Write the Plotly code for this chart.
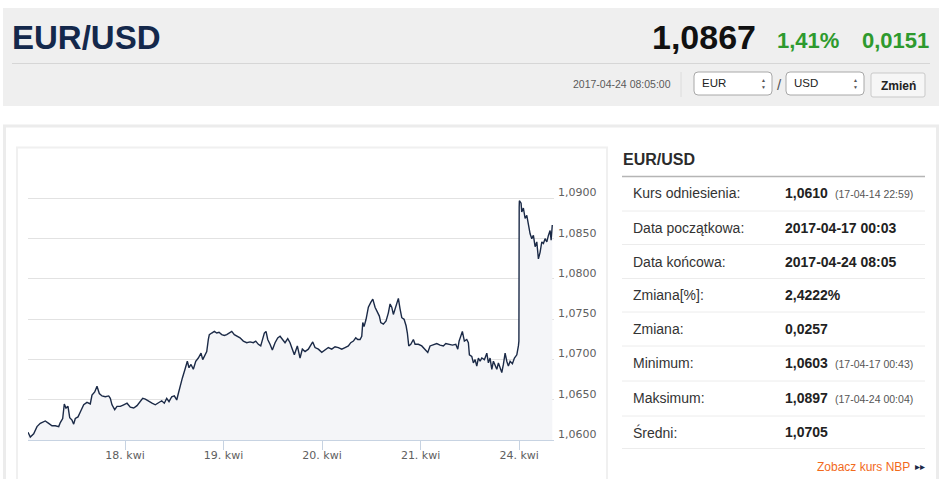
import plotly.graph_objects as go

# EUR/USD intraday, x = hours within each trading day (weekend skipped)
days = ["17. kwi", "18. kwi", "19. kwi", "20. kwi", "21. kwi", "24. kwi"]

h17 = [0.37, 0.93, 1.75, 2.56, 3.36, 4.19, 4.58, 5.41, 6.21, 7.02, 7.85, 8.24, 8.82, 9.21, 9.62, 10.11, 10.53,
       11.09, 11.50, 11.89, 12.55, 13.11, 13.94, 14.74, 15.54, 15.96, 16.62, 17.18, 17.74, 18.40, 19.20, 20.03,
       20.42, 20.83, 21.49, 22.05, 22.85, 23.68]
r17 = [1.0610, 1.0604, 1.0608, 1.0617, 1.0621, 1.0623, 1.0624, 1.0621, 1.0618, 1.0618, 1.0617, 1.0622, 1.0627,
       1.0645, 1.0640, 1.0642, 1.0628, 1.0625, 1.0620, 1.0627, 1.0629, 1.0635, 1.0644, 1.0647, 1.0645, 1.0656,
       1.0660, 1.0667, 1.0658, 1.0655, 1.0654, 1.0655, 1.0652, 1.0644, 1.0638, 1.0642, 1.0642, 1.0644]

h18 = [0.49, 1.29, 2.12, 2.92, 3.73, 4.31, 4.95, 5.77, 6.58, 7.38, 8.11, 8.94, 9.57, 10.16, 10.72, 11.38, 12.01,
       12.60, 12.99, 13.40, 13.96, 14.62, 15.18, 15.59, 16.08, 16.64, 17.23, 17.86, 18.52, 18.93, 19.49, 19.91,
       20.30, 20.54, 21.12, 21.76, 22.34, 22.90, 23.56]
r18 = [1.0646, 1.0641, 1.0640, 1.0643, 1.0648, 1.0652, 1.0651, 1.0648, 1.0646, 1.0644, 1.0646, 1.0649, 1.0646,
       1.0652, 1.0648, 1.0654, 1.0655, 1.0650, 1.0658, 1.0667, 1.0677, 1.0688, 1.0698, 1.0690, 1.0694, 1.0688,
       1.0698, 1.0702, 1.0708, 1.0700, 1.0706, 1.0710, 1.0725, 1.0731, 1.0733, 1.0735, 1.0733, 1.0734, 1.0731]

h19 = [0.19, 0.78, 1.34, 2.00, 2.63, 3.22, 4.02, 4.82, 5.65, 6.46, 7.26, 7.85, 8.48, 9.06, 9.45, 9.94, 10.35,
       10.77, 11.33, 11.89, 12.55, 13.20, 13.77, 14.33, 14.98, 15.64, 16.20, 16.76, 17.25, 17.98, 18.64, 19.20,
       19.86, 20.66, 21.25, 21.73, 22.29, 23.10, 23.93]
r19 = [1.0730, 1.0731, 1.0733, 1.0735, 1.0731, 1.0729, 1.0727, 1.0723, 1.0721, 1.0722, 1.0721, 1.0723, 1.0719,
       1.0717, 1.0725, 1.0733, 1.0735, 1.0725, 1.0719, 1.0712, 1.0721, 1.0727, 1.0729, 1.0725, 1.0721, 1.0726,
       1.0721, 1.0713, 1.0706, 1.0717, 1.0702, 1.0713, 1.0710, 1.0713, 1.0719, 1.0722, 1.0715, 1.0713, 1.0709]

h20 = [0.73, 1.53, 2.36, 3.17, 3.97, 4.80, 5.60, 6.41, 6.99, 7.63, 8.21, 8.70, 9.26, 9.67, 9.92, 10.23, 10.72,
       11.28, 11.87, 12.36, 12.91, 13.47, 13.96, 14.30, 14.93, 15.59, 16.15, 16.57, 16.98, 17.37, 17.79, 18.20,
       18.59, 19.00, 19.42, 19.98, 20.47, 20.78, 21.12, 21.61, 22.24, 22.66, 23.46]
r20 = [1.0712, 1.0715, 1.0713, 1.0716, 1.0715, 1.0713, 1.0715, 1.0717, 1.0721, 1.0723, 1.0727, 1.0725, 1.0725,
       1.0729, 1.0746, 1.0741, 1.0750, 1.0765, 1.0771, 1.0775, 1.0765, 1.0758, 1.0754, 1.0746, 1.0744, 1.0748,
       1.0758, 1.0769, 1.0765, 1.0756, 1.0763, 1.0771, 1.0776, 1.0763, 1.0752, 1.0750, 1.0742, 1.0733, 1.0717,
       1.0719, 1.0725, 1.0719, 1.0719]

h21 = [0.29, 1.09, 1.75, 2.31, 3.12, 3.94, 4.75, 5.55, 6.14, 6.94, 7.75, 8.58, 9.06, 9.38, 9.87, 10.18, 10.67,
       11.25, 11.64, 11.89, 12.47, 12.86, 13.28, 13.69, 14.08, 14.50, 14.91, 15.54, 16.13, 16.52, 16.93, 17.35,
       17.74, 18.15, 18.57, 18.96, 19.37, 19.78, 20.17, 20.59, 21.00, 21.39, 21.81, 22.37, 22.86, 23.44, 23.83,
       23.95]
r21 = [1.0717, 1.0713, 1.0709, 1.0717, 1.0719, 1.0720, 1.0718, 1.0717, 1.0720, 1.0719, 1.0718, 1.0719, 1.0713,
       1.0723, 1.0729, 1.0735, 1.0723, 1.0725, 1.0721, 1.0706, 1.0704, 1.0696, 1.0700, 1.0692, 1.0702, 1.0698,
       1.0702, 1.0700, 1.0708, 1.0696, 1.0702, 1.0688, 1.0698, 1.0694, 1.0688, 1.0696, 1.0690, 1.0684, 1.0694,
       1.0708, 1.0698, 1.0692, 1.0698, 1.0695, 1.0702, 1.0706, 1.0717, 1.0723]

h24 = [0.02, 0.07, 0.48, 0.65, 1.04, 1.46, 1.87, 2.26, 2.68, 3.09, 3.48, 3.90, 4.31, 4.70, 5.11, 5.53, 5.92,
       6.33, 6.75, 7.14, 7.55, 7.80, 8.08]
r24 = [1.0889, 1.0897, 1.0894, 1.0883, 1.0888, 1.0875, 1.0879, 1.0867, 1.0856, 1.0850, 1.0854, 1.0840, 1.0846,
       1.0825, 1.0833, 1.0846, 1.0844, 1.0850, 1.0846, 1.0854, 1.0860, 1.0848, 1.0867]

y_ticks = [1.060, 1.065, 1.070, 1.075, 1.080, 1.085, 1.090, 1.095]
y_labels = ["1,0600", "1,0650", "1,0700", "1,0750", "1,0800", "1,0850", "1,0900", ""]

# header / summary texts
pair = "EUR/USD"
last_rate = "1,0867"
change_pct = "1,41%"
change_abs = "0,0151"
stamp = "2017-04-24 08:05:00"

row_labels = ["Kurs odniesienia:", "Data początkowa:", "Data końcowa:", "Zmiana[%]:",
              "Zmiana:", "Minimum:", "Maksimum:", "Średni:"]
row_values = ["1,0610", "2017-04-17 00:03", "2017-04-24 08:05", "2,4222%",
              "0,0257", "1,0603", "1,0897", "1,0705"]
row_notes = ["(17-04-14 22:59)", "", "", "", "", "(17-04-17 00:43)", "(17-04-24 00:04)", ""]

W, H = 945, 479
ARIAL = "Liberation Sans, Arial, sans-serif"
HC = "DejaVu Sans, Verdana, sans-serif"


def X(v):
    return v / W


def Y(v):
    return 1 - v / H


# join the trading days on one axis
hours, rates = [], []
for i, (hh, rr) in enumerate([(h17, r17), (h18, r18), (h19, r19), (h20, r20), (h21, r21), (h24, r24)]):
    hours += [i * 24 + h for h in hh]
    rates += rr

fig = go.Figure()
fig.add_trace(go.Scatter(
    x=hours, y=rates, mode="lines",
    line=dict(color="#1b2a47", width=1.4),
    fill="tozeroy", fillcolor="#f4f5f8",
    hoverinfo="skip"))

shapes = []


def rect(x0, y0, x1, y1, fill=None, line=None, lw=1):
    shapes.append(dict(type="rect", xref="paper", yref="paper", x0=X(x0), x1=X(x1), y0=Y(y1), y1=Y(y0),
                       fillcolor=fill or "rgba(0,0,0,0)", line=dict(color=line or "rgba(0,0,0,0)", width=lw),
                       layer="below"))


def hline(y, x0, x1, color, lw=1):
    shapes.append(dict(type="line", xref="paper", yref="paper", x0=X(x0), x1=X(x1), y0=Y(y), y1=Y(y),
                       line=dict(color=color, width=lw), layer="below"))


def rrect(x0, y0, x1, y1, r, fill, line):
    p = (f"M{X(x0 + r)},{Y(y0)} L{X(x1 - r)},{Y(y0)} Q{X(x1)},{Y(y0)} {X(x1)},{Y(y0 + r)} "
         f"L{X(x1)},{Y(y1 - r)} Q{X(x1)},{Y(y1)} {X(x1 - r)},{Y(y1)} L{X(x0 + r)},{Y(y1)} "
         f"Q{X(x0)},{Y(y1)} {X(x0)},{Y(y1 - r)} L{X(x0)},{Y(y0 + r)} Q{X(x0)},{Y(y0)} {X(x0 + r)},{Y(y0)} Z")
    shapes.append(dict(type="path", xref="paper", yref="paper", path=p, fillcolor=fill,
                       line=dict(color=line, width=1), layer="below"))


def text(x, y, s, size, color, bold=False, anchor="left", family=ARIAL):
    fig.add_annotation(x=X(x), y=Y(y), xref="paper", yref="paper", showarrow=False,
                       text=f"<b>{s}</b>" if bold else s, xanchor=anchor, yanchor="middle",
                       borderpad=0, font=dict(family=family, size=size, color=color))


# header block
rect(3, 8, 939, 106, fill="#efefef")
hline(63.5, 12, 930, "#d6d6d6")
shapes.append(dict(type="line", xref="paper", yref="paper", x0=X(681), x1=X(681), y0=Y(72), y1=Y(97),
                   line=dict(color="#dcdcdc", width=1)))
rrect(694, 72, 772, 95, 4, "#ffffff", "#a8a8a8")
rrect(786, 72, 864, 95, 4, "#ffffff", "#a8a8a8")
rrect(871, 73, 925, 97, 2, "#f6f6f6", "#c9c9c9")

text(11, 37, pair, 33, "#14284b", bold=True)
text(757, 37, last_rate, 34, "#111111", bold=True, anchor="right")
text(776, 40, change_pct, 22, "#2e9a2e", bold=True)
text(930, 40, change_abs, 22, "#2e9a2e", bold=True, anchor="right")
text(672, 84, stamp, 10.5, "#5a5a5a", anchor="right")
text(701, 83.5, "EUR", 11.5, "#222222")
text(793, 83.5, "USD", 11.5, "#222222")
for ax in (763, 855):
    text(ax, 80, "▲", 5, "#555555", anchor="center")
    text(ax, 87.5, "▼", 5, "#555555", anchor="center")
text(779, 84, "/", 15, "#555555", anchor="center")
text(898, 85.5, "Zmień", 12, "#222222", bold=True, anchor="center")

# panels
rect(4.5, 126, 937.5, 500, line="#ececec", lw=3)
rect(17, 147.5, 607, 500, line="#f0f0f0", lw=2)

# summary table
text(622, 159, pair, 16, "#2b2b2b", bold=True)
hline(176.5, 622, 925, "#b5b5b5", 1.5)
row_y = [193, 228, 262, 295, 328.5, 363, 398, 432]
sep_y = [211, 244.5, 278.5, 312, 346, 381, 416, 448.5]
for ry, sy, lab, val, note in zip(row_y, sep_y, row_labels, row_values, row_notes):
    text(632, ry, lab, 14, "#333333")
    text(784, ry, val, 14, "#222222", bold=True)
    if note:
        text(834, ry + 1, note, 10.5, "#555555")
    hline(sy, 622, 925, "#ececec")
text(911, 466.5, "Zobacz kurs NBP", 12, "#f26a1b", anchor="right")
text(914, 466, "▸▸", 10, "#1b2a47")

fig.update_layout(
    width=W, height=H, autosize=False,
    margin=dict(l=0, r=0, t=0, b=0, pad=0, autoexpand=False),
    paper_bgcolor="#ffffff", plot_bgcolor="rgba(0,0,0,0)",
    showlegend=False, shapes=shapes,
    xaxis=dict(
        domain=[X(28), X(554)], range=[0.37, 128.5],
        tickvals=[24, 48, 72, 96, 120], ticktext=days[1:],
        ticks="outside", ticklen=9, tickcolor="#c7d3e2", tickwidth=1,
        showline=True, linecolor="#c7d3e2", linewidth=1,
        showgrid=False, zeroline=False, fixedrange=True, automargin=False,
        ticklabelstandoff=-5,
        tickfont=dict(family=HC, size=11, color="#606060")),
    yaxis=dict(
        domain=[Y(440.3), Y(158)], range=[1.060, 1.095],
        side="right", tickvals=y_ticks, ticktext=y_labels,
        showgrid=True, gridcolor="#e2e2e2", gridwidth=1,
        zeroline=False, showline=False, ticks="", fixedrange=True, automargin=False,
        ticklabelshift=-6, ticklabelstandoff=3,
        tickfont=dict(family=HC, size=11, color="#606060")),
)

fig.write_html("out.html", config={"displayModeBar": False},
               post_script="document.body.style.margin='0';document.body.style.overflow='hidden';")
